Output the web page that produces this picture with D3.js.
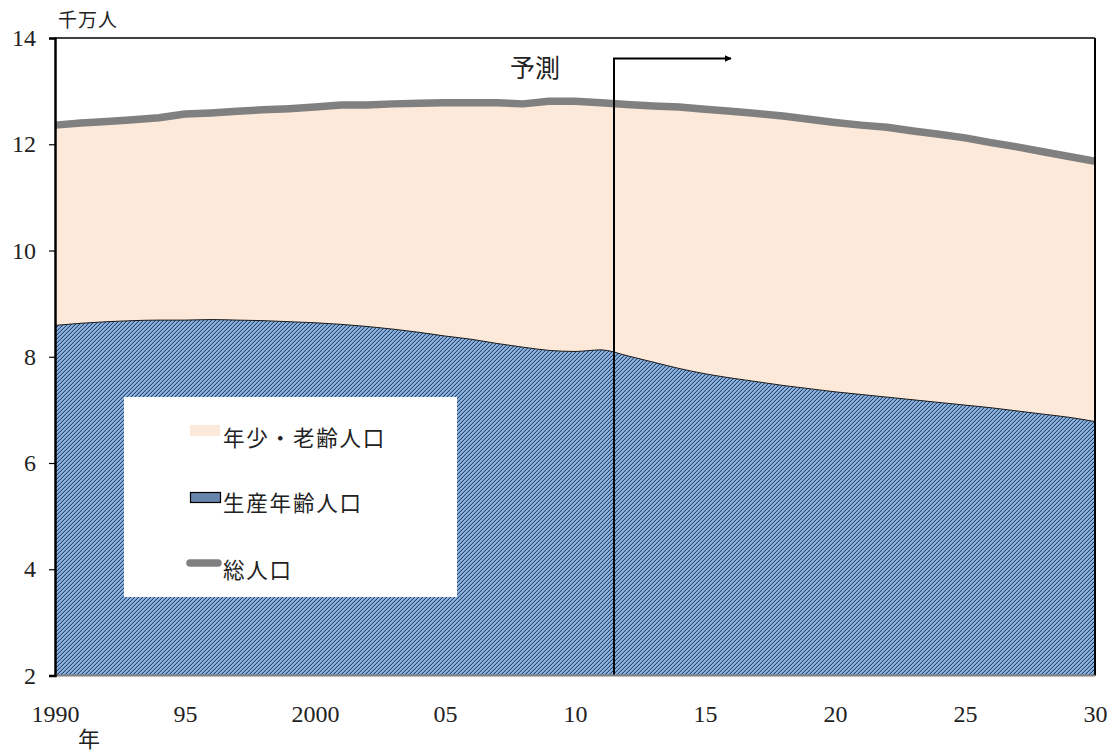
<!DOCTYPE html>
<html>
<head>
<meta charset="utf-8">
<script src="https://cdn.jsdelivr.net/npm/d3@7"></script>
<style>
  html, body { margin: 0; padding: 0; background: #fff; }
  svg { display: block; }
  .serif { font-family: "Liberation Serif", "DejaVu Serif", serif; }
</style>
</head>
<body>
<svg id="chart" width="1115" height="752"></svg>
<script>
// ---- data ----
const years = [1990,1991,1992,1993,1994,1995,1996,1997,1998,1999,
               2000,2001,2002,2003,2004,2005,2006,2007,2008,2009,
               2010,2011,2012,2013,2014,2015,2016,2017,2018,2019,
               2020,2021,2022,2023,2024,2025,2026,2027,2028,2029,2030];
// 総人口 (千万人)
const totalPop = [12.36,12.40,12.43,12.46,12.50,12.57,12.59,12.62,12.65,12.67,
                  12.70,12.74,12.74,12.76,12.77,12.78,12.78,12.78,12.76,12.81,
                  12.81,12.78,12.75,12.72,12.70,12.66,12.62,12.58,12.53,12.47,
                  12.41,12.36,12.32,12.25,12.19,12.12,12.03,11.95,11.86,11.77,11.68];
// 生産年齢人口 (千万人)
const workingPop = [8.59,8.63,8.66,8.68,8.69,8.69,8.70,8.69,8.68,8.66,
                    8.64,8.61,8.57,8.52,8.46,8.39,8.33,8.25,8.18,8.12,
                    8.10,8.13,8.02,7.90,7.78,7.68,7.60,7.53,7.46,7.40,
                    7.34,7.29,7.24,7.19,7.14,7.09,7.04,6.98,6.92,6.86,6.78];
const yTicks = [2,4,6,8,10,12,14];
const xTickYears = [1990,1995,2000,2005,2010,2015,2020,2025,2030];
const xTickLabels = ["1990","95","2000","05","10","15","20","25","30"];
const forecastStart = 2011.5;
const legendLabels = ["年少・老齢人口","生産年齢人口","総人口"];
const yUnit = "千万人";
const xUnit = "年";
const forecastLabel = "予測";

// ---- layout ----
const svg = d3.select("#chart");
const L = 55, R = 1095, T = 38, B = 675.5;
const x = d3.scaleLinear().domain([1990, 2030]).range([L, R]);
const y = d3.scaleLinear().domain([2, 14]).range([B, T]);
const cjk = "'Noto Sans CJK JP','Noto Sans CJK SC',sans-serif";

const data = years.map((yr, i) => ({ yr, total: totalPop[i], work: workingPop[i] }));

// hatch pattern
const defs = svg.append("defs");
const pat = defs.append("pattern").attr("id", "hatch")
  .attr("patternUnits", "userSpaceOnUse").attr("width", 4).attr("height", 4);
pat.append("rect").attr("width", 4).attr("height", 4).attr("fill", "#8db4e3");
for (let px = 0; px < 4; px++) {
  for (let py = 0; py < 4; py++) {
    const k = (px + py) % 4;
    if (k === 3) pat.append("rect").attr("x", px).attr("y", py).attr("width", 1).attr("height", 1)
      .attr("fill", "#27466b").attr("shape-rendering", "crispEdges");
    else if (k === 2) pat.append("rect").attr("x", px).attr("y", py).attr("width", 1).attr("height", 1)
      .attr("fill", "#7395c0").attr("shape-rendering", "crispEdges");
  }
}

// 年少・老齢人口 area (between working and total)
svg.append("path").datum(data)
  .attr("fill", "#fde9d9")
  .attr("d", d3.area().x(d => x(d.yr)).y0(d => y(d.work)).y1(d => y(d.total)).curve(d3.curveMonotoneX));

// 生産年齢人口 area
svg.append("path").datum(data)
  .attr("fill", "url(#hatch)")
  .attr("d", d3.area().x(d => x(d.yr)).y0(y(2)).y1(d => y(d.work)).curve(d3.curveMonotoneX));
svg.append("path").datum(data)
  .attr("fill", "none").attr("stroke", "#1a1a1a").attr("stroke-width", 1)
  .attr("d", d3.line().x(d => x(d.yr)).y(d => y(d.work)).curve(d3.curveMonotoneX));

// legend box
const lg = svg.append("g");
lg.append("rect").attr("x", 124).attr("y", 397).attr("width", 333).attr("height", 200).attr("fill", "#fff");
lg.append("rect").attr("x", 190).attr("y", 425).attr("width", 30).attr("height", 11).attr("fill", "#fde9d9");
lg.append("rect").attr("x", 190.5).attr("y", 492.5).attr("width", 30).attr("height", 10)
  .attr("fill", "#6785ad").attr("stroke", "#000").attr("stroke-width", 1.2);
lg.append("line").attr("x1", 190).attr("x2", 218).attr("y1", 563).attr("y2", 563)
  .attr("stroke", "#808080").attr("stroke-width", 7.5).attr("stroke-linecap", "round");
const legY = [446, 511, 578];
legendLabels.forEach((t, i) => {
  lg.append("text").attr("x", 223).attr("y", legY[i]).text(t)
    .attr("font-family", cjk).attr("font-size", 21.5).attr("letter-spacing", 1.8).attr("fill", "#222");
});

// 総人口 line
svg.append("path").datum(data)
  .attr("fill", "none").attr("stroke", "#808080").attr("stroke-width", 7.5)
  .attr("stroke-linejoin", "round")
  .attr("d", d3.line().x(d => x(d.yr)).y(d => y(d.total)));

// forecast arrow
defs.append("marker").attr("id", "arrow").attr("viewBox", "0 0 10 10")
  .attr("refX", 9).attr("refY", 5).attr("markerWidth", 7).attr("markerHeight", 7)
  .attr("markerUnits", "userSpaceOnUse").attr("orient", "auto")
  .append("path").attr("d", "M0,0 L10,5 L0,10 Z").attr("fill", "#000");
svg.append("path")
  .attr("d", `M${x(forecastStart)},${B} L${x(forecastStart)},${58.5} L${x(forecastStart) + 117},${58.5}`)
  .attr("fill", "none").attr("stroke", "#000").attr("stroke-width", 2)
  .attr("marker-end", "url(#arrow)");
svg.append("text").attr("x", 510).attr("y", 77).text(forecastLabel)
  .attr("font-family", cjk).attr("font-size", 25).attr("fill", "#222");

// frame
svg.append("line").attr("x1", L).attr("x2", R).attr("y1", T).attr("y2", T).attr("stroke", "#000").attr("stroke-width", 1.5);
svg.append("line").attr("x1", R).attr("x2", R).attr("y1", T).attr("y2", B).attr("stroke", "#000").attr("stroke-width", 2);
svg.append("line").attr("x1", L).attr("x2", R).attr("y1", B).attr("y2", B).attr("stroke", "#808080").attr("stroke-width", 2);

// y axis
const yAxis = svg.append("g").attr("transform", `translate(${L},0)`)
  .call(d3.axisLeft(y).tickValues(yTicks).tickFormat(d3.format("d")).tickSize(6).tickPadding(13));
yAxis.attr("font-family", null).attr("font-size", null);
yAxis.select(".domain").attr("stroke", "#000").attr("stroke-width", 2.5);
yAxis.selectAll(".tick line").attr("stroke", "#000").attr("stroke-width", 1.2);
yAxis.selectAll(".tick text").attr("class", "serif").style("font-size", "24px").attr("fill", "#222");

// x axis
const xAxis = svg.append("g").attr("transform", `translate(0,${B})`)
  .call(d3.axisBottom(x).tickValues(xTickYears).tickFormat((d, i) => xTickLabels[i]).tickSize(0).tickPadding(29));
xAxis.attr("font-family", null).attr("font-size", null);
xAxis.select(".domain").remove();
xAxis.selectAll(".tick text").attr("class", "serif").style("font-size", "24px").attr("fill", "#222");

// unit labels
svg.append("text").attr("x", 58).attr("y", 27).text(yUnit)
  .attr("font-family", cjk).attr("font-size", 19).attr("letter-spacing", 1).attr("fill", "#222");
svg.append("text").attr("x", 89).attr("y", 747).attr("text-anchor", "middle").text(xUnit)
  .attr("font-family", cjk).attr("font-size", 22).attr("fill", "#222");
</script>
</body>
</html>
